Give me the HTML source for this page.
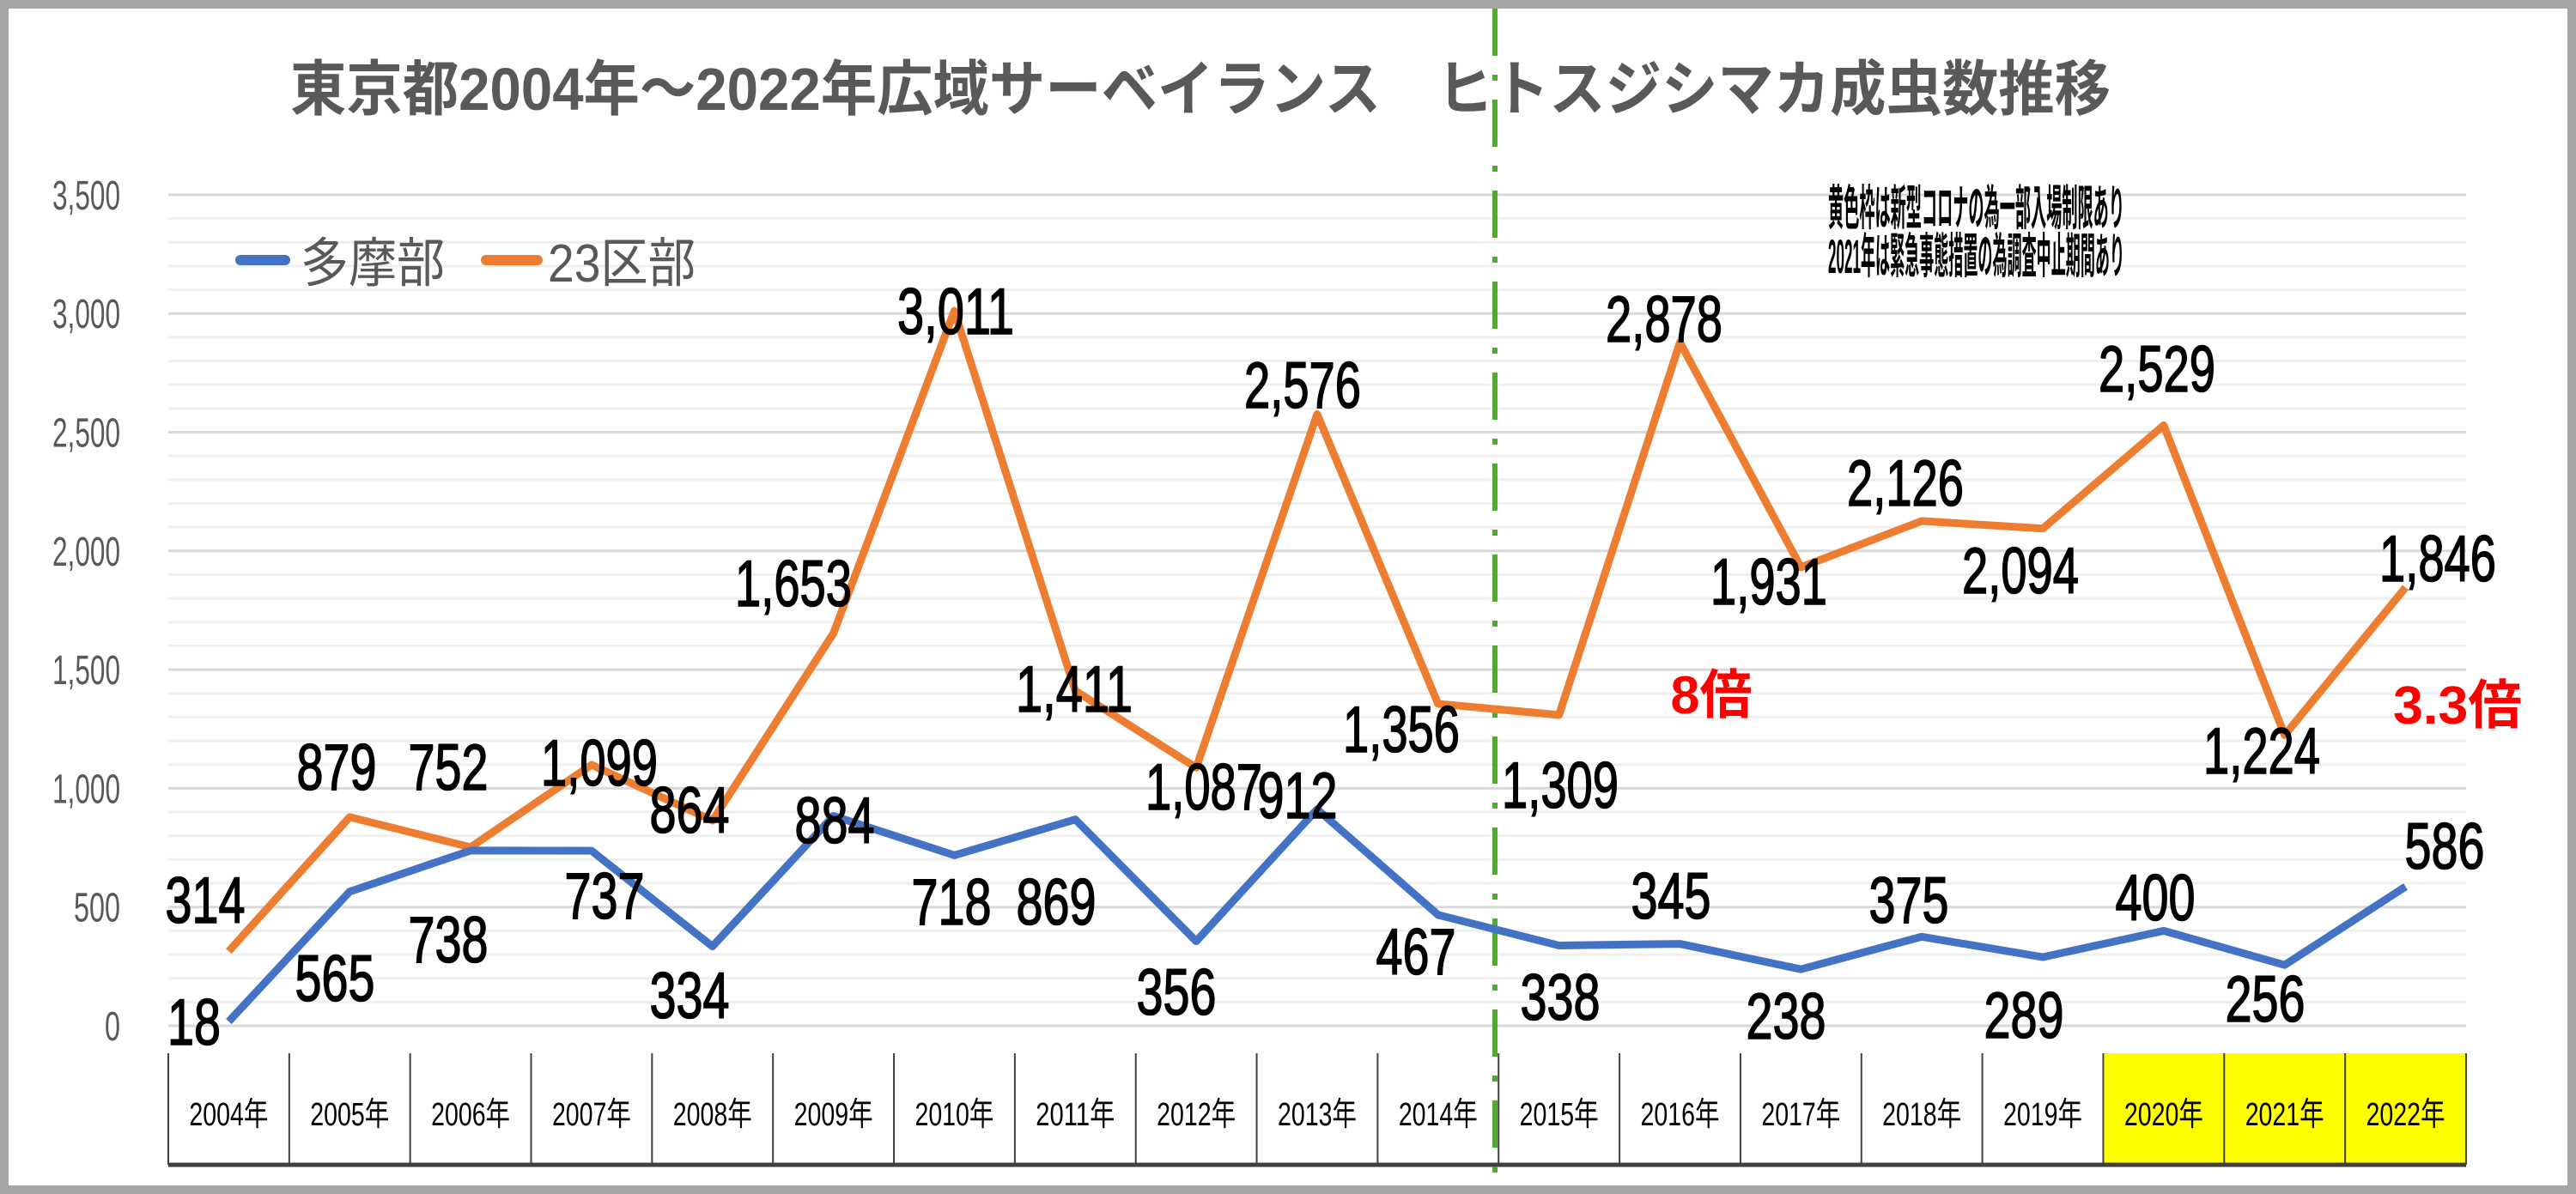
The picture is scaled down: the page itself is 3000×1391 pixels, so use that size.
<!DOCTYPE html>
<html><head><meta charset="utf-8"><style>
html,body{margin:0;padding:0;background:#fff}
svg{display:block}
.t{font-family:"Liberation Sans","Noto Sans CJK JP",sans-serif}
.d{font-family:"Liberation Sans",sans-serif;font-size:76px;fill:#000;text-anchor:middle;stroke:#000;stroke-width:1.6}
.y{font-family:"Liberation Sans",sans-serif;font-size:48px;fill:#595959;text-anchor:end}
.c{font-family:"Liberation Sans","Noto Sans CJK JP",sans-serif;font-size:38px;fill:#000;text-anchor:middle}
</style></head><body>
<svg width="3000" height="1391" viewBox="0 0 3000 1391" xmlns="http://www.w3.org/2000/svg">
<rect x="5" y="5" width="2990" height="1381" fill="#fff" stroke="#a6a6a6" stroke-width="10"/>
<g id="grid"></g>
<rect x="2449" y="1227" width="423" height="130" fill="#ffff00"/>
<line x1="196" y1="1357" x2="2872" y2="1357" stroke="#404040" stroke-width="5"/>
<g id="ticks" stroke="#404040" stroke-width="2"></g>
<g id="cats"></g>
<g id="ylab"></g>
<line x1="1741" y1="10" x2="1741" y2="1381" stroke="#53a830" stroke-width="6" stroke-dasharray="55,22,7,22"/>
<text class="t" x="338" y="128" font-size="70" font-weight="bold" fill="#595959" textLength="2120" lengthAdjust="spacingAndGlyphs" font-family="'Noto Sans CJK JP',sans-serif">東京都2004年～2022年広域サーベイランス　ヒトスジシマカ成虫数推移</text>
<line x1="280" y1="303" x2="332" y2="303" stroke="#4472c4" stroke-width="12" stroke-linecap="round"/>
<text class="t" x="350" y="328" font-size="62" fill="#595959" textLength="168" lengthAdjust="spacingAndGlyphs">多摩部</text>
<line x1="566" y1="303" x2="626" y2="303" stroke="#ed7d31" stroke-width="12" stroke-linecap="round"/>
<text class="t" x="638" y="328" font-size="62" fill="#595959" textLength="172" lengthAdjust="spacingAndGlyphs">23区部</text>
<text class="t" x="2129" y="262" font-size="56" font-weight="bold" fill="#000" textLength="345" lengthAdjust="spacingAndGlyphs" font-family="'Noto Sans CJK JP',sans-serif">黄色枠は新型コロナの為一部入場制限あり</text>
<text class="t" x="2129" y="318" font-size="56" font-weight="bold" fill="#000" textLength="345" lengthAdjust="spacingAndGlyphs" font-family="'Liberation Sans','Noto Sans CJK JP',sans-serif">2021年は緊急事態措置の為調査中止期間あり</text>
<polyline id="org" fill="none" stroke="#ed7d31" stroke-width="9" stroke-linejoin="round"/>
<polyline id="blu" fill="none" stroke="#4472c4" stroke-width="9" stroke-linejoin="round"/>
<g id="labs"></g>
<text x="1993" y="831" font-family="'Liberation Sans','Noto Sans CJK JP',sans-serif" font-weight="bold" font-size="62" fill="#ff0000" text-anchor="middle" textLength="95" lengthAdjust="spacingAndGlyphs">8倍</text>
<text x="2862" y="843" font-family="'Liberation Sans','Noto Sans CJK JP',sans-serif" font-weight="bold" font-size="62" fill="#ff0000" text-anchor="middle" textLength="150" lengthAdjust="spacingAndGlyphs">3.3倍</text>
</svg>
<script>
var NS="http://www.w3.org/2000/svg";
function el(t,a,p,txt){var e=document.createElementNS(NS,t);for(var k in a)e.setAttribute(k,a[k]);if(txt!=null)e.textContent=txt;document.getElementById(p).appendChild(e);return e;}
function tw(s,d,c){var w=0;for(var i=0;i<s.length;i++)w+=(s[i]==','?c:d);return w;}
var Y0=1195,S=0.2766;
for(var v=0;v<=3500;v+=100){var y=Y0-v*S;el('line',{x1:196,x2:2872,y1:y,y2:y,stroke:v%500==0?'#d9d9d9':'#efefef','stroke-width':3},'grid');}
for(var v=0;v<=3500;v+=500){var s=v>=1000?(Math.floor(v/1000)+','+('00'+(v%1000)).slice(-3)):String(v);el('text',{x:140,y:Y0-v*S+17,class:'y',textLength:tw(s,18,7),lengthAdjust:'spacingAndGlyphs'},'ylab',s);}
var W=140.84;
for(var i=0;i<=19;i++){var x=196+W*i;el('line',{x1:x,x2:x,y1:1227,y2:1357},'ticks');}
for(var i=0;i<19;i++){el('text',{x:196+W*(i+0.5),y:1311,class:'c',textLength:92,lengthAdjust:'spacingAndGlyphs'},'cats',(2004+i)+'年');}
var tama=[18,565,738,737,334,884,718,869,356,912,467,338,345,238,375,289,400,256,586];
var ku=[314,879,752,1099,864,1653,3011,1411,1087,2576,1356,1309,2878,1931,2126,2094,2529,1224,1846];
function pts(a){return a.map(function(v,i){return (266.4+W*i)+','+(Y0-v*S)}).join(' ');}
document.getElementById('org').setAttribute('points',pts(ku));
document.getElementById('blu').setAttribute('points',pts(tama));
var L=[[239,1048,'314'],[392,893,'879'],[522,893,'752'],[698,888,'1,099'],[803,943,'864'],[924,679,'1,653'],[1113,362,'3,011'],[1251,802,'1,411'],[1402,916,'1,087'],[1517,448,'2,576'],[1632,849,'1,356'],[1817,914,'1,309'],[1938,371,'2,878'],[2060,677,'1,931'],[2219,562,'2,126'],[2353,664,'2,094'],[2512,429,'2,529'],[2634,874,'1,224'],[2839,650,'1,846'],
[226,1190,'18'],[390,1139,'565'],[522,1094,'738'],[704,1043,'737'],[803,1159,'334'],[972,955,'884'],[1108,1050,'718'],[1230,1050,'869'],[1370,1155,'356'],[1511,926,'912'],[1649,1108,'467'],[1817,1161,'338'],[1946,1043,'345'],[2080,1183,'238'],[2223,1048,'375'],[2357,1182,'289'],[2510,1045,'400'],[2638,1163,'256'],[2847,985,'586']];
L.forEach(function(l){el('text',{x:l[0],y:l[1]+27,class:'d',textLength:tw(l[2],31,12),lengthAdjust:'spacingAndGlyphs'},'labs',l[2]);});
</script>
</body></html>
